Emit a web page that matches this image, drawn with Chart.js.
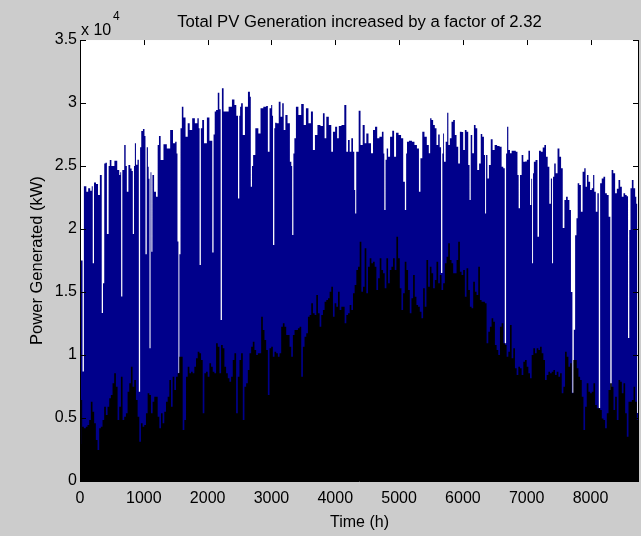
<!DOCTYPE html>
<html>
<head>
<meta charset="utf-8">
<script src="https://cdn.jsdelivr.net/npm/chart.js"></script>
<style>
  html, body { margin: 0; padding: 0; background: #cccccc; }
  canvas { display: block; }
</style>
</head>
<body>
<canvas id="chart" width="641" height="536"></canvas>
<script>
const titleText = 'Total PV Generation increased by a factor of 2.32';
const xLabel = 'Time (h)';
const yLabel = 'Power Generated (kW)';
const xTicks = [0, 1000, 2000, 3000, 4000, 5000, 6000, 7000, 8000];
const yTicks = [0, 5000, 10000, 15000, 20000, 25000, 30000, 35000];

// [hour, kW] traced from the top edge of the blue (scaled) generation
const scaledPV = [
  [0, 23500], [14, 17500], [30, 17500], [50, 8700], [72, 23400], [84, 23400],
  [115, 22960], [141, 23230], [178, 23040], [190, 23400], [209, 17280], [230, 23700],
  [272, 23570], [293, 22700], [330, 24290], [351, 13330], [370, 15700],
  [390, 25210], [408, 25265], [435, 19600], [462, 25000], [471, 25475],
  [513, 25000], [565, 25425], [602, 24680], [628, 24290], [635, 24500], [654, 14650],
  [673, 24680], [680, 24680], [706, 26670], [725, 25000], [743, 22960], [774, 25080],
  [800, 24800], [818, 24600], [837, 19600], [856, 25000], [864, 26800], [890, 25100],
  [912, 25500], [932, 7090], [952, 26500], [968, 27780], [1005, 27940],
  [1016, 27380], [1036, 18000], [1056, 26500], [1073, 24950], [1079, 24000], [1099, 10530],
  [1112, 24500], [1125, 18200], [1145, 24290], [1177, 22960], [1204, 22560],
  [1230, 26670], [1245, 27380], [1282, 25475], [1334, 26720], [1387, 26400], [1439, 27860],
  [1476, 26800], [1507, 26930], [1520, 26000], [1535, 19000], [1550, 8570], [1565, 18000],
  [1585, 28000], [1607, 29710], [1633, 28860], [1675, 27330], [1701, 28390], [1737, 27860],
  [1779, 28785], [1821, 28390], [1858, 28785], [1864, 28000], [1884, 17140], [1904, 28000],
  [1926, 28650], [1962, 26800], [2015, 28860], [2041, 27000], [2063, 27000], [2083, 18130],
  [2103, 27500], [2119, 29320], [2146, 29445], [2172, 30820], [2194, 29500], [2214, 12780],
  [2234, 31165], [2266, 29320], [2303, 29320], [2355, 29710], [2407, 30290],
  [2433, 29840], [2466, 29000], [2486, 22430], [2506, 29000], [2512, 29710], [2538, 29975],
  [2564, 27460], [2606, 29710], [2658, 30900], [2668, 30500], [2685, 23360], [2705, 25000],
  [2721, 25875], [2774, 27990], [2816, 27590], [2842, 29580], [2904, 29710], [2931, 29760],
  [2957, 26140], [2983, 29580], [3009, 29840], [3015, 29000], [3035, 18730], [3055, 28000],
  [3061, 28440], [3100, 28390], [3129, 30110], [3156, 28915], [3182, 29975], [3203, 27860],
  [3234, 29050], [3271, 28390], [3307, 25345], [3316, 25000], [3334, 19520], [3354, 26000],
  [3365, 27200], [3402, 29710], [3443, 29050], [3490, 29920], [3522, 28255], [3559, 29580],
  [3601, 28390], [3637, 29320], [3663, 26270], [3700, 27460], [3742, 28255], [3794, 28175],
  [3820, 29180], [3846, 27200], [3873, 28915], [3925, 28255], [3951, 26140], [3977, 27725],
  [4019, 28125], [4040, 27200], [4071, 28175], [4124, 28255], [4160, 29840], [4187, 26140],
  [4213, 27065], [4239, 26140], [4265, 27200], [4291, 26140], [4305, 23095], [4320, 21240],
  [4338, 26140], [4354, 26140], [4380, 29390], [4412, 26670], [4448, 28255], [4474, 26800],
  [4500, 27590], [4542, 26800], [4579, 26010], [4605, 27860], [4642, 28125], [4673, 27200],
  [4710, 27330], [4752, 27725], [4760, 26000], [4778, 21510], [4798, 25500], [4815, 26400],
  [4841, 25740], [4877, 27330], [4909, 27805], [4935, 25740], [4971, 27645], [5013, 27460],
  [5050, 27200], [5080, 23760], [5102, 21510], [5120, 26000], [5128, 26930], [5181, 27010],
  [5223, 26930], [5259, 26670], [5301, 26400], [5322, 22960], [5348, 25610], [5380, 27725],
  [5416, 27330], [5453, 26670], [5479, 26010], [5495, 28785], [5521, 28650], [5547, 28255],
  [5573, 27990], [5600, 26670], [5626, 27500], [5648, 26500], [5668, 16510], [5688, 26000],
  [5694, 27590], [5715, 25345], [5746, 26930], [5762, 29230], [5783, 26670], [5809, 27200],
  [5835, 28520], [5861, 28650], [5888, 27460], [5914, 26535], [5940, 25210], [5966, 27725],
  [5992, 27700], [6018, 26270], [6044, 27860], [6071, 27725], [6097, 25080], [6112, 22300],
  [6133, 27460], [6160, 26010], [6186, 28255], [6212, 27990], [6238, 24680], [6270, 25210],
  [6290, 27540], [6317, 27330], [6343, 25875], [6353, 21240], [6374, 25875], [6395, 24020],
  [6421, 25080], [6453, 27120], [6479, 26270], [6516, 26670], [6557, 26590], [6594, 26535],
  [6620, 24950], [6646, 24815], [6667, 10930], [6687, 26000], [6699, 28125], [6725, 26270],
  [6751, 26010], [6777, 26220], [6814, 26220], [6845, 26140], [6866, 24290], [6882, 21640],
  [6908, 24290], [6934, 25875], [6960, 25345], [6990, 25350], [7015, 25500], [7039, 26220],
  [7065, 21905], [7078, 24000], [7091, 17280], [7108, 24420], [7117, 25345], [7159, 25475],
  [7180, 19390], [7206, 26220], [7238, 26140], [7264, 26480], [7290, 26670], [7316, 25740],
  [7342, 24950], [7368, 22000], [7390, 24020], [7405, 17280], [7421, 24150], [7442, 25210],
  [7468, 24420], [7499, 26400], [7526, 25740], [7552, 24815], [7578, 20080], [7604, 22300],
  [7630, 22565], [7656, 22300], [7682, 21510], [7705, 15000], [7728, 7000], [7748, 12000],
  [7770, 19500], [7790, 20850], [7808, 23625], [7839, 23490], [7860, 21375],
  [7892, 24550], [7913, 24815], [7934, 23360], [7955, 24290], [7981, 23760], [8007, 23095],
  [8033, 23230], [8049, 24290], [8070, 22960], [8096, 21375], [8120, 22830],
  [8140, 5790], [8162, 23625], [8190, 24020], [8216, 24150], [8243, 22830],
  [8269, 22700], [8300, 20980], [8321, 5640], [8341, 24680], [8373, 24420],
  [8399, 22830], [8426, 23200], [8452, 23890], [8478, 23360], [8504, 22565], [8530, 22830],
  [8556, 22700], [8578, 22600], [8598, 11350], [8618, 19920], [8635, 23230], [8661, 23890],
  [8687, 23230], [8713, 22565], [8722, 22000], [8740, 5400], [8760, 23230]
];

// [hour, kW] traced from the top edge of the black (original) generation
const basePV = [
  [0, 2935], [10, 2935], [26, 6430], [42, 4310], [78, 4180], [104, 4300], [131, 4440],
  [157, 4840], [183, 6295], [209, 5500], [235, 4575], [262, 3250], [288, 2460], [314, 4180],
  [340, 4300], [366, 4840], [392, 5900], [419, 5235], [445, 5900], [471, 6560], [497, 6825],
  [523, 7750], [549, 8545], [576, 7485], [602, 4840], [628, 5900], [654, 8280], [680, 4840],
  [706, 5105], [733, 5370], [759, 7090], [785, 7750], [811, 9075], [837, 7485], [863, 8015],
  [890, 6430], [916, 5105], [942, 3120], [968, 4575], [994, 4310], [1020, 4440], [1047, 5370],
  [1073, 6955], [1099, 6825], [1125, 5370], [1151, 6295], [1177, 6690], [1204, 6690],
  [1230, 5105], [1256, 4180], [1282, 5370], [1308, 4575], [1334, 5500], [1361, 6295],
  [1387, 6690], [1413, 8015], [1439, 5900], [1465, 8280], [1491, 7220], [1518, 8280],
  [1544, 8545], [1570, 9870], [1596, 9870], [1622, 4045], [1648, 4840], [1675, 8280],
  [1701, 9075], [1727, 8545], [1753, 8675], [1779, 8545], [1805, 9075], [1831, 9735],
  [1858, 10265], [1884, 10130], [1910, 9600], [1936, 5370], [1962, 8545], [1988, 8675],
  [2015, 8280], [2041, 9340], [2067, 9075], [2093, 8675], [2119, 8545], [2146, 10925],
  [2172, 10660], [2198, 8545], [2224, 10790], [2250, 10530], [2276, 9075], [2303, 8545],
  [2329, 8150], [2355, 7880], [2381, 8280], [2407, 9600], [2433, 10130], [2460, 5370],
  [2486, 8280], [2512, 9600], [2538, 10130], [2564, 4840], [2590, 7485], [2617, 7750],
  [2643, 8810], [2669, 10130], [2695, 10660], [2721, 11060], [2747, 10400], [2774, 10000],
  [2800, 10130], [2826, 10130], [2852, 13040], [2878, 11985], [2904, 11190], [2931, 10400],
  [2957, 6825], [2983, 10530], [3009, 10660], [3035, 9870], [3061, 10265], [3088, 10130],
  [3114, 9870], [3140, 10130], [3166, 12250], [3192, 12515], [3218, 12250], [3245, 11590],
  [3271, 11590], [3297, 10660], [3323, 9870], [3349, 11590], [3375, 11985], [3402, 11985],
  [3428, 12115], [3454, 12250], [3480, 8280], [3506, 10660], [3532, 11455], [3559, 11720],
  [3585, 13040], [3611, 13175], [3637, 14100], [3663, 13310], [3690, 13175], [3716, 14765],
  [3742, 13310], [3768, 12250], [3794, 13175], [3820, 13570], [3846, 14235], [3873, 14365],
  [3899, 14500], [3925, 15030], [3951, 15425], [3977, 13040], [4003, 14100], [4030, 13835],
  [4056, 15030], [4082, 13570], [4108, 13835], [4134, 13835], [4160, 12515], [4187, 13175],
  [4213, 13310], [4239, 13970], [4265, 13570], [4291, 14895], [4317, 15560], [4344, 16750],
  [4370, 17010], [4396, 18995], [4422, 15030], [4448, 15425], [4474, 18465], [4500, 14895],
  [4527, 17010], [4553, 17675], [4579, 17280], [4605, 17410], [4631, 17010], [4658, 15160],
  [4684, 16085], [4710, 17675], [4736, 16750], [4762, 16480], [4788, 15290], [4815, 17675],
  [4841, 15690], [4867, 16750], [4893, 17010], [4919, 17675], [4945, 16750], [4971, 19390],
  [4998, 17675], [5024, 15290], [5050, 13570], [5076, 14895], [5102, 17410], [5128, 16750],
  [5155, 15160], [5181, 13310], [5207, 14500], [5233, 16350], [5259, 14630], [5285, 13970],
  [5311, 13835], [5338, 13440], [5364, 12910], [5390, 15290], [5416, 13835], [5442, 17540],
  [5469, 15425], [5495, 17010], [5521, 16480], [5547, 15290], [5573, 15955], [5600, 17410],
  [5626, 15690], [5652, 16350], [5678, 15160], [5704, 15690], [5731, 17275], [5757, 17805],
  [5783, 18865], [5809, 17540], [5835, 17275], [5861, 16480], [5888, 16480], [5914, 17540],
  [5940, 18995], [5966, 16615], [5992, 16350], [6018, 16750], [6044, 14630], [6071, 16880],
  [6097, 15160], [6123, 13835], [6149, 13705], [6175, 15820], [6201, 15030], [6228, 14765],
  [6254, 17010], [6280, 14365], [6306, 14235], [6332, 14235], [6358, 14100], [6385, 10925],
  [6411, 11850], [6437, 12250], [6463, 12910], [6489, 12645], [6515, 10790], [6542, 10400],
  [6568, 10000], [6594, 12250], [6620, 12515], [6646, 10925], [6672, 10790], [6699, 9870],
  [6725, 10265], [6751, 12380], [6777, 9735], [6803, 10530], [6829, 8940], [6856, 8410],
  [6882, 9075], [6908, 8940], [6934, 8410], [6960, 9470], [6987, 9600], [7013, 9075],
  [7039, 8545], [7065, 8150], [7091, 10000], [7117, 10530], [7143, 10130], [7170, 10530],
  [7196, 10400], [7222, 10660], [7248, 10130], [7274, 9600], [7300, 8015], [7327, 8410],
  [7353, 8675], [7379, 8545], [7405, 8675], [7431, 8810], [7457, 8410], [7484, 8675],
  [7510, 8280], [7536, 8545], [7562, 6955], [7588, 7485], [7614, 10265], [7640, 9870],
  [7667, 9075], [7693, 9340], [7719, 6955], [7745, 9600], [7771, 9600], [7798, 8940],
  [7824, 8280], [7850, 8015], [7876, 6690], [7902, 4045], [7928, 5900], [7954, 7750],
  [7981, 7090], [8007, 6955], [8033, 7090], [8059, 7750], [8085, 6030], [8112, 5765],
  [8138, 5765], [8164, 5635], [8190, 4970], [8216, 4840], [8242, 4180], [8269, 5370],
  [8295, 7220], [8321, 7750], [8347, 7485], [8373, 5635], [8399, 6690], [8426, 4840],
  [8452, 8015], [8478, 7880], [8504, 6955], [8530, 7750], [8556, 5370], [8582, 3515],
  [8609, 6295], [8635, 6295], [8661, 6430], [8687, 7485], [8713, 6295], [8739, 4840],
  [8760, 1400]
];

const FONT = '"Liberation Sans", Arial, Helvetica, sans-serif';
const toPoints = arr => arr.map(([h, kw]) => ({ x: h, y: kw }));

// white plot box, inward ticks and the "x 10^4" multiplier like a MATLAB axes
const matlabAxes = {
  id: 'matlabAxes',
  beforeDatasetsDraw(chart) {
    const { ctx, chartArea: a } = chart;
    ctx.save();
    ctx.fillStyle = '#ffffff';
    ctx.fillRect(a.left, a.top, a.right - a.left, a.bottom - a.top);
    ctx.restore();
  },
  afterDatasetsDraw(chart) {
    const { ctx, chartArea: a, scales: { x, y } } = chart;
    ctx.save();
    ctx.strokeStyle = '#000';
    ctx.lineWidth = 1;
    ctx.beginPath();
    ctx.moveTo(a.left + 0.5, a.top);
    ctx.lineTo(a.left + 0.5, a.bottom + 0.5);
    ctx.lineTo(a.right - 0.5, a.bottom + 0.5);
    ctx.lineTo(a.right - 0.5, a.top);
    xTicks.forEach(t => {
      if (t === 0) return;
      const px = Math.round(x.getPixelForValue(t)) + 0.5;
      ctx.moveTo(px, a.top); ctx.lineTo(px, a.top + 5);
      ctx.moveTo(px, a.bottom); ctx.lineTo(px, a.bottom - 5);
    });
    yTicks.forEach(t => {
      const py = Math.round(y.getPixelForValue(t)) + 0.5;
      ctx.moveTo(a.left, py); ctx.lineTo(a.left + 6, py);
      ctx.moveTo(a.right, py); ctx.lineTo(a.right - 6, py);
    });
    ctx.stroke();

    ctx.fillStyle = '#000';
    ctx.textBaseline = 'alphabetic';
    ctx.textAlign = 'left';
    ctx.font = '16px ' + FONT;
    ctx.fillText('x 10', a.left + 1, a.top - 5);
    ctx.font = '12px ' + FONT;
    ctx.fillText('4', a.left + 33, a.top - 20);
    ctx.restore();
  }
};

new Chart(document.getElementById('chart'), {
  type: 'line',
  data: {
    datasets: [
      {
        label: 'Original',
        data: toPoints(basePV),
        borderColor: '#000000',
        backgroundColor: '#000000',
        borderWidth: 0,
        fill: 'origin',
        stepped: 'middle',
        pointRadius: 0
      },
      {
        label: 'Scaled',
        data: toPoints(scaledPV),
        borderColor: '#00008b',
        backgroundColor: '#00008b',
        borderWidth: 0,
        fill: 'origin',
        stepped: 'middle',
        pointRadius: 0
      }
    ]
  },
  options: {
    responsive: false,
    animation: false,
    devicePixelRatio: 1,
    layout: { padding: { left: 0, right: 2, top: 0, bottom: 0 } },
    plugins: {
      legend: { display: false },
      tooltip: { enabled: false },
      title: {
        display: true,
        text: titleText,
        fullSize: false,
        color: '#000',
        font: { family: FONT, size: 16.7, weight: 'normal' },
        padding: { top: 12.5, bottom: 7.5 }
      }
    },
    scales: {
      x: {
        type: 'linear',
        min: 0,
        max: 8760,
        afterBuildTicks: s => { s.ticks = xTicks.map(v => ({ value: v })); },
        afterFit: s => { s.height = 55; },
        grid: { display: false, drawTicks: false },
        border: { display: false },
        ticks: {
          color: '#000',
          font: { family: FONT, size: 16 },
          padding: 8,
          maxRotation: 0,
          autoSkip: false,
          callback: v => String(v)
        },
        title: {
          display: true,
          text: xLabel,
          color: '#000',
          font: { family: FONT, size: 16 },
          padding: { top: 0, bottom: 4 }
        }
      },
      y: {
        min: 0,
        max: 35000,
        afterBuildTicks: s => { s.ticks = yTicks.map(v => ({ value: v })); },
        afterFit: s => { s.width = 80; },
        grid: { display: false, drawTicks: false },
        border: { display: false },
        ticks: {
          color: '#000',
          font: { family: FONT, size: 16 },
          padding: 3,
          callback: v => String(v / 10000)
        },
        title: {
          display: true,
          text: yLabel,
          color: '#000',
          font: { family: FONT, size: 16.5 },
          padding: { top: 28, bottom: 0 }
        }
      }
    }
  },
  plugins: [matlabAxes]
});
</script>
</body>
</html>
